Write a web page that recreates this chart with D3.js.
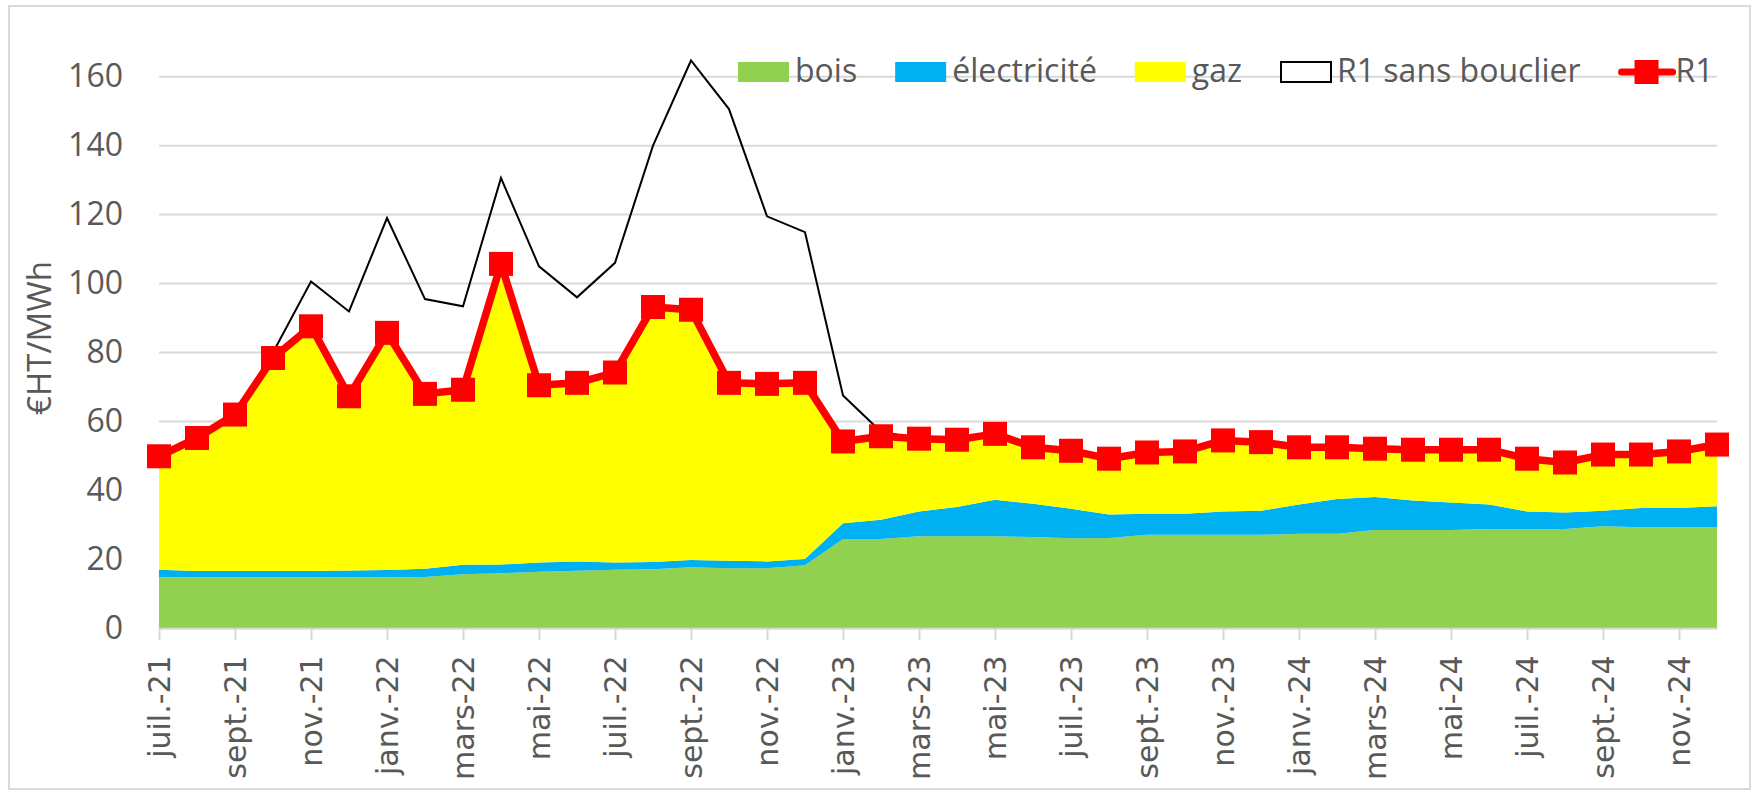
<!DOCTYPE html>
<html>
<head>
<meta charset="utf-8">
<script src="https://cdn.jsdelivr.net/npm/d3@7"></script>
<style>
  html, body { margin: 0; padding: 0; background: #fff; }
  svg text { fill: #595959; }
</style>
</head>
<body>
<svg id="chart" width="1757" height="796"></svg>
<script>
// monthly points, juil.-21 .. déc.-24
var months = ["juil.-21","août-21","sept.-21","oct.-21","nov.-21","déc.-21",
  "janv.-22","févr.-22","mars-22","avr.-22","mai-22","juin-22","juil.-22","août-22","sept.-22","oct.-22","nov.-22","déc.-22",
  "janv.-23","févr.-23","mars-23","avr.-23","mai-23","juin-23","juil.-23","août-23","sept.-23","oct.-23","nov.-23","déc.-23",
  "janv.-24","févr.-24","mars-24","avr.-24","mai-24","juin-24","juil.-24","août-24","sept.-24","oct.-24","nov.-24","déc.-24"];

var bois = [14.8,14.8,14.8,14.8,14.8,14.8,14.8,14.9,15.7,16.0,16.4,16.7,17.0,17.1,17.7,17.4,17.4,18.3,
  25.9,25.9,26.7,26.7,26.7,26.5,26.1,26.2,27.1,27.1,27.1,27.1,27.4,27.4,28.5,28.5,28.5,28.8,28.8,28.8,29.6,29.3,29.3,29.3];
var electricite = [2.2,1.8,1.8,1.8,1.8,2.0,2.1,2.4,2.7,2.5,2.7,2.7,2.1,2.1,2.1,2.2,2.0,1.8,
  4.6,5.6,7.2,8.5,10.6,9.6,8.6,6.8,6.1,6.1,6.8,7.0,8.5,10.1,9.6,8.6,8.0,7.1,5.1,4.8,4.5,5.6,5.6,6.1];
var gaz = [32.9,38.6,45.4,61.8,71.0,50.5,68.8,50.7,50.8,87.2,51.4,51.8,55.1,74.0,72.6,51.6,51.5,51.1,
  23.7,24.2,21.1,19.5,19.1,16.4,16.8,16.2,17.8,18.1,20.6,19.9,16.6,15.0,14.0,14.7,15.3,15.9,15.3,14.5,16.3,15.5,16.4,17.9];
var r1 = [49.9,55.2,62.0,78.4,87.6,67.3,85.7,68.0,69.2,105.7,70.5,71.2,74.2,93.2,92.4,71.2,70.9,71.2,
  54.2,55.7,55.0,54.7,56.4,52.5,51.5,49.2,51.0,51.3,54.5,54.0,52.5,52.5,52.1,51.8,51.8,51.8,49.2,48.1,50.4,50.4,51.3,53.3];
var r1SansBouclier = [49.9,55.2,62.0,80.0,100.6,91.9,119.0,95.5,93.4,130.6,105.0,96.0,106.0,140.0,164.7,150.6,119.5,114.9,
  67.5,57.0,55.0,54.7,56.4,52.5,51.5,49.2,51.0,51.3,54.5,54.0,52.5,52.5,52.1,51.8,51.8,51.8,49.2,48.1,50.4,50.4,51.3,53.3];

var yTicks = [0,20,40,60,80,100,120,140,160];

var colors = { bois: "#92D050", electricite: "#00B0F0", gaz: "#FFFF00", r1: "#FF0000", sans: "#000000" };
var legendItems = [
  {key: "bois", label: "bois", type: "area"},
  {key: "electricite", label: "électricité", type: "area"},
  {key: "gaz", label: "gaz", type: "area"},
  {key: "sans", label: "R1 sans bouclier", type: "box"},
  {key: "r1", label: "R1", type: "marker"}
];

var svg = d3.select("#chart"),
  W = +svg.attr("width"), H = +svg.attr("height"),
  margin = {top: 76.7, right: 40, bottom: 167.7, left: 159},
  width = 1717 - margin.left,
  height = H - margin.top - margin.bottom;

// outer chart frame
svg.append("rect").attr("x", 9).attr("y", 6).attr("width", 1741).attr("height", 783)
  .attr("fill", "#fff").attr("stroke", "#d9d9d9").attr("stroke-width", 2);

var g = svg.append("g").attr("transform", "translate(" + margin.left + "," + margin.top + ")");

var x = d3.scalePoint().domain(months).range([0, width]);
var y = d3.scaleLinear().domain([0, 160]).range([height, 0]);

// gridlines
g.append("g")
  .selectAll("line")
  .data(yTicks.slice(1))
  .enter().append("line")
    .attr("x1", 0).attr("x2", width)
    .attr("y1", function(d) { return y(d); }).attr("y2", function(d) { return y(d); })
    .attr("stroke", "#d9d9d9").attr("stroke-width", 2);

// stacked areas
var rows = months.map(function(m, i) { return {month: m, bois: bois[i], electricite: electricite[i], gaz: gaz[i]}; });
var stack = d3.stack().keys(["bois", "electricite", "gaz"]);
var series = stack(rows);
var area = d3.area()
  .x(function(d) { return x(d.data.month); })
  .y0(function(d) { return y(d[0]); })
  .y1(function(d) { return y(d[1]); });

g.append("g").selectAll("path")
  .data(series)
  .enter().append("path")
    .attr("d", area)
    .attr("fill", function(d) { return colors[d.key]; });

// x axis
var xAxis = g.append("g")
  .attr("transform", "translate(0," + height + ")")
  .call(d3.axisBottom(x).tickValues(months.filter(function(m, i) { return i % 2 === 0; })).tickSize(12).tickSizeOuter(0));
xAxis.select(".domain").attr("stroke", "#d9d9d9").attr("stroke-width", 2);
xAxis.selectAll(".tick line").attr("stroke", "#d9d9d9").attr("stroke-width", 2);
xAxis.selectAll(".tick text")
  .attr("font-family", "'DejaVu Sans', Verdana, sans-serif")
  .attr("font-size", 30)
  .attr("fill", "#595959")
  .attr("text-anchor", "end")
  .attr("transform", "rotate(-90)")
  .attr("x", -27).attr("y", 0).attr("dy", "0.36em");

// y axis labels
var yAxis = g.append("g")
  .call(d3.axisLeft(y).tickValues(yTicks).tickSize(0).tickPadding(36));
yAxis.select(".domain").remove();
yAxis.selectAll(".tick text")
  .attr("font-family", "'Open Sans', sans-serif")
  .attr("font-size", 32)
  .attr("fill", "#595959");

svg.append("text")
  .attr("transform", "translate(51,338) rotate(-90)")
  .attr("text-anchor", "middle")
  .attr("font-family", "'Open Sans', sans-serif")
  .attr("font-size", 33)
  .text("€HT/MWh");

// lines
var line = d3.line().x(function(d, i) { return x(months[i]); }).y(function(d) { return y(d); });

g.append("path").datum(r1SansBouclier)
  .attr("d", line).attr("fill", "none")
  .attr("stroke", colors.sans).attr("stroke-width", 2).attr("stroke-linejoin", "miter");

g.append("path").datum(r1)
  .attr("d", line).attr("fill", "none")
  .attr("stroke", colors.r1).attr("stroke-width", 7.5).attr("stroke-linejoin", "round");

g.append("g").selectAll("rect")
  .data(r1)
  .enter().append("rect")
    .attr("x", function(d, i) { return x(months[i]) - 12; })
    .attr("y", function(d) { return y(d) - 12; })
    .attr("width", 24).attr("height", 24)
    .attr("fill", colors.r1);

// legend
var legend = svg.append("g").attr("font-family", "'Open Sans', sans-serif").attr("font-size", 32);
var lx = 738;
legendItems.forEach(function(it) {
  var item = legend.append("g").attr("transform", "translate(" + lx + ",0)");
  if (it.type === "area") {
    item.append("rect").attr("x", 0).attr("y", 62).attr("width", 51).attr("height", 20).attr("fill", colors[it.key]);
  } else if (it.type === "box") {
    item.append("rect").attr("x", 1).attr("y", 62).attr("width", 50).attr("height", 20)
      .attr("fill", "#fff").attr("stroke", "#000").attr("stroke-width", 2);
  } else {
    item.append("line").attr("x1", 3).attr("x2", 54).attr("y1", 72).attr("y2", 72)
      .attr("stroke", colors.r1).attr("stroke-width", 7).attr("stroke-linecap", "round");
    item.append("rect").attr("x", 16).attr("y", 60).attr("width", 24).attr("height", 24).attr("fill", colors.r1);
  }
  var t = item.append("text").attr("x", 57).attr("y", 82).text(it.label);
  lx += 57 + t.node().getComputedTextLength() + 38;
});
</script>
</body>
</html>
